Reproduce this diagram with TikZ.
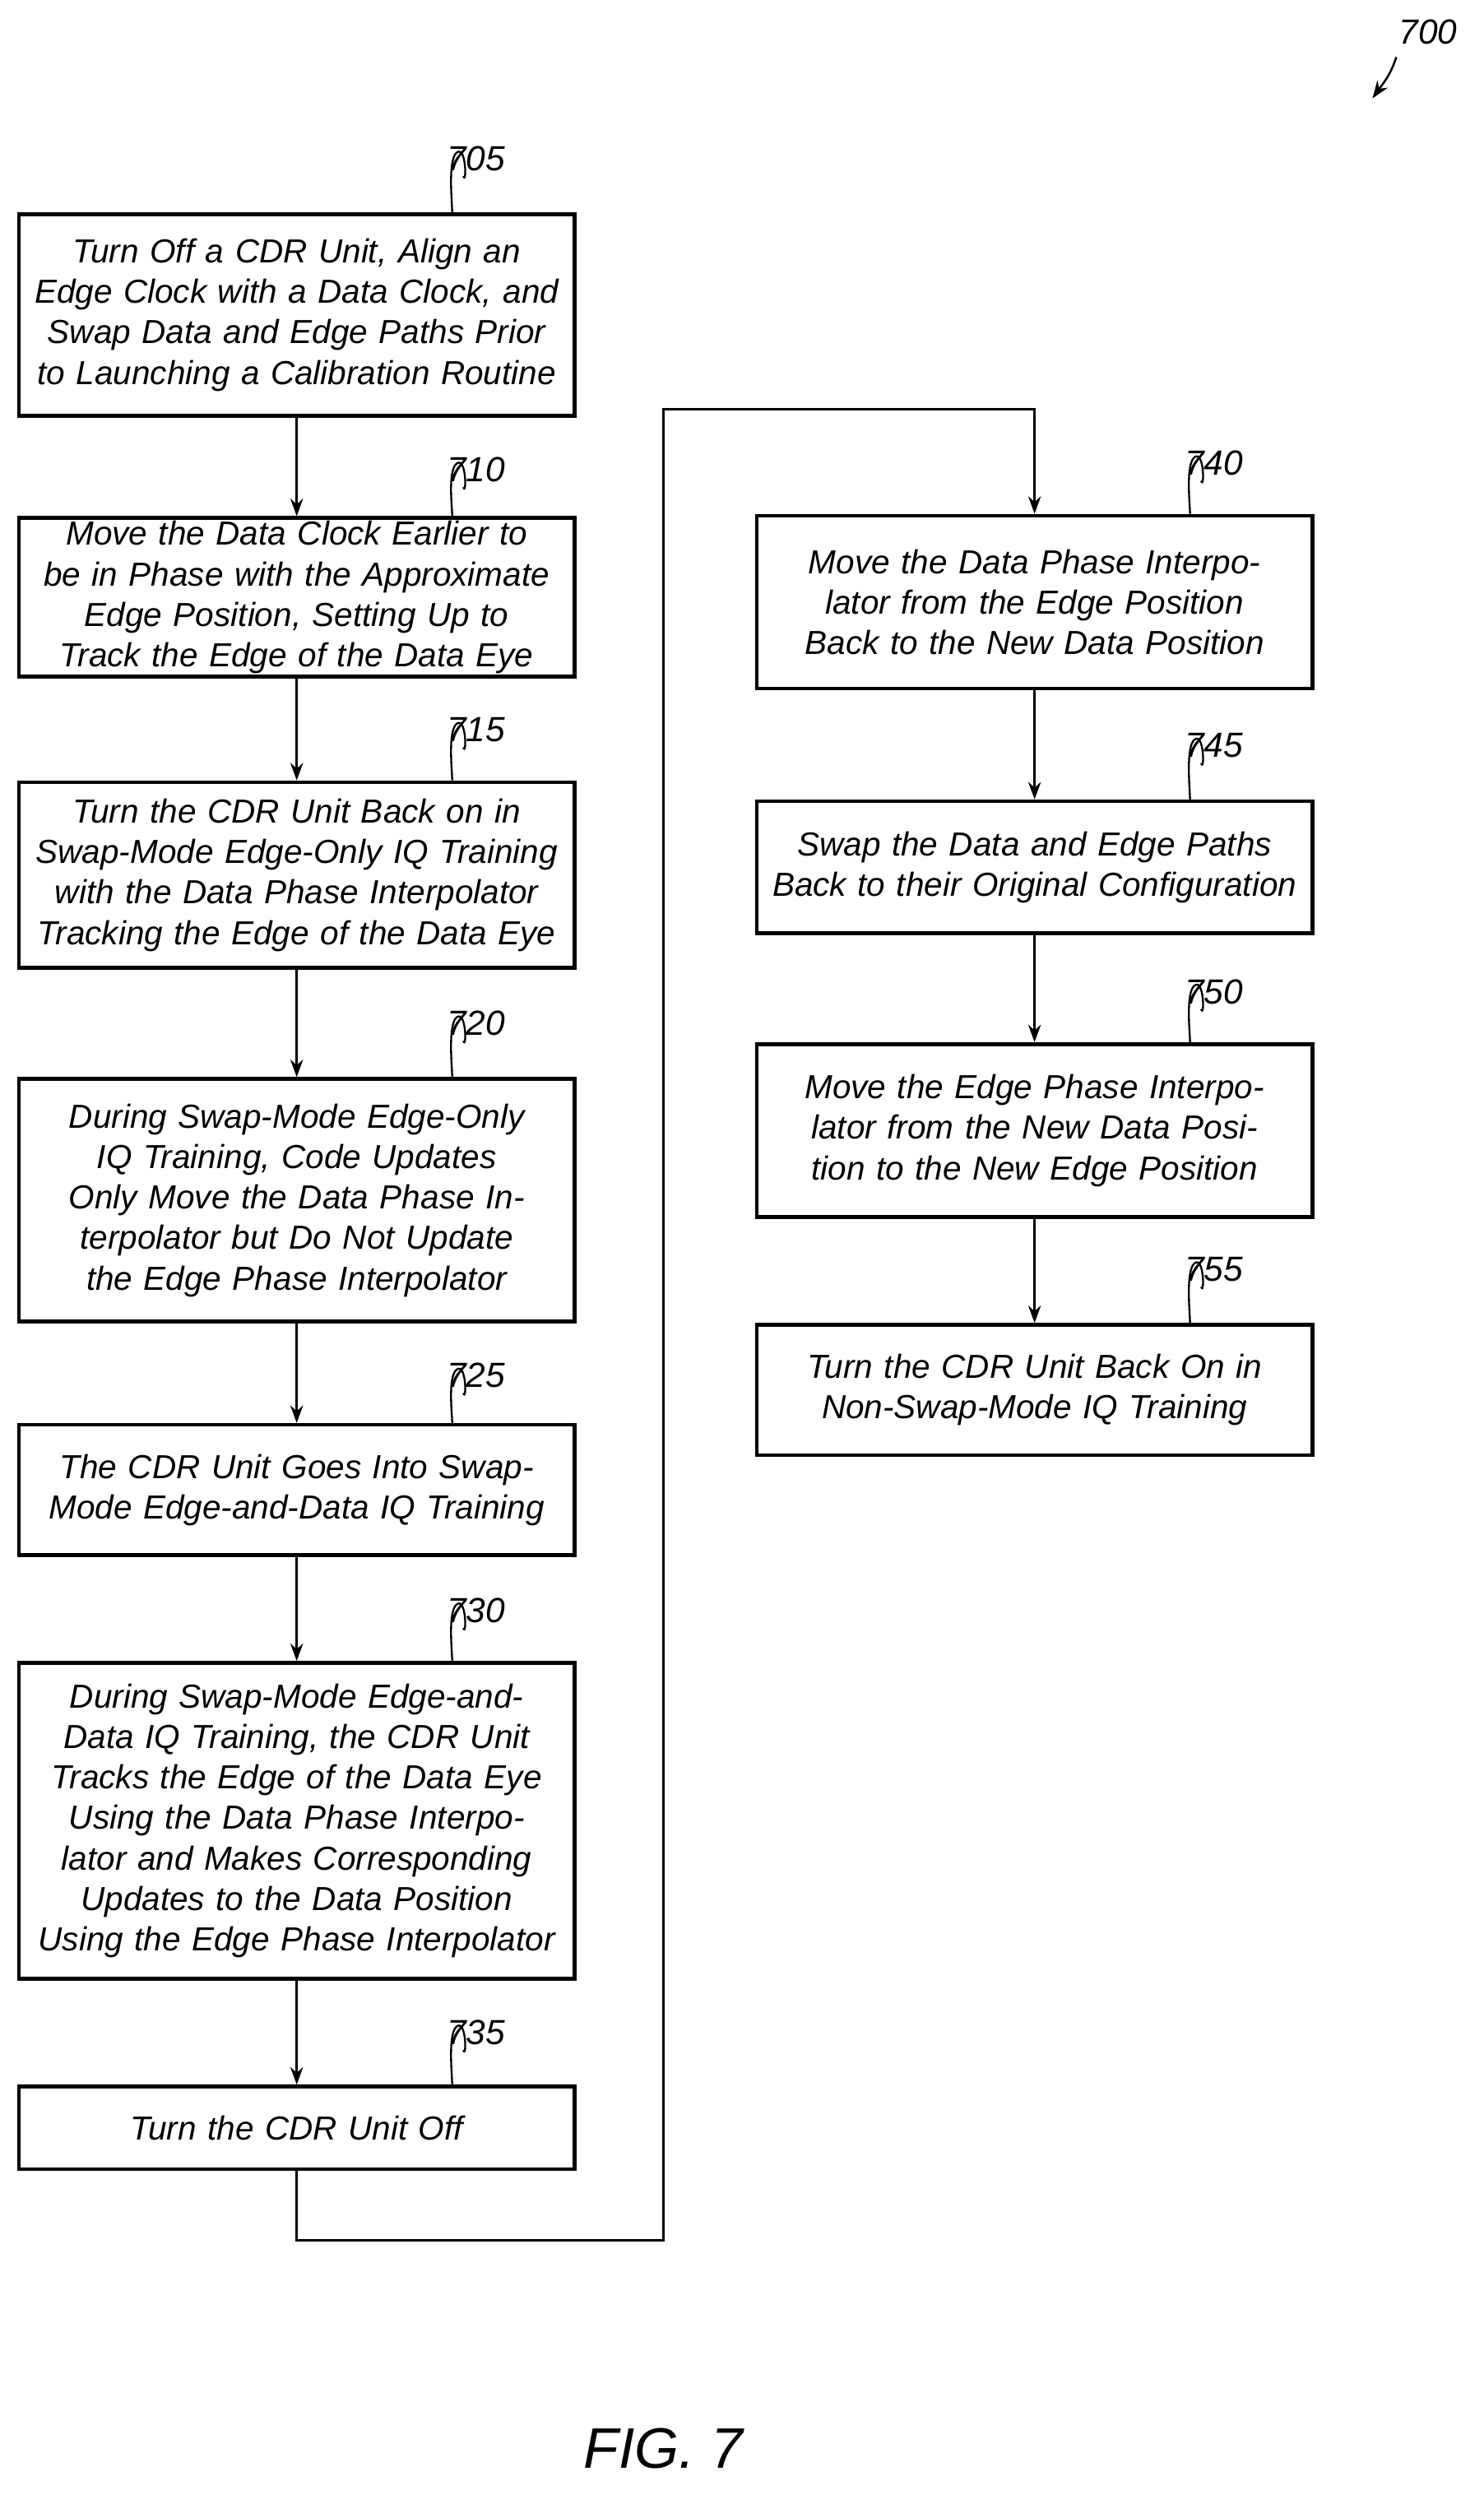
\documentclass[tikz,border=0pt]{standalone}
\usepackage{fontspec}
\setmainfont{Liberation Sans}
\usetikzlibrary{arrows.meta}
\begin{document}
\begin{tikzpicture}[x=1pt,y=-1pt,
 box/.style={draw,line width=2.4pt,fill=white,minimum width=350pt,align=center,text width=344pt,inner sep=2pt,font=\itshape\fontsize{21}{25.5}\selectfont},
 lab/.style={font=\itshape\fontsize{22}{24}\selectfont},
 arr/.style={line width=1.3pt,-{Stealth[length=11pt,width=8pt]}},
 sq/.style={line width=1.2pt}]
\useasboundingbox (0,0) rectangle (935,1575);
\newcommand{\bx}[6]{\node[box,minimum height=#5pt] (#1) at (#2,#3) {#6};
 \node[lab] (l#1) at (#4) {#1};}
\bx{705}{187}{198.5}{300,100}{127}{Turn Off a CDR Unit, Align an Edge Clock with a Data Clock, and Swap Data and Edge Paths Prior to Launching a Calibration Routine}
\bx{710}{187}{376.5}{300,296}{97}{Move the Data Clock Earlier to be in Phase with the Approximate Edge Position, Setting Up to Track the Edge of the Data Eye}
\bx{715}{187}{551.5}{300,460}{117}{Turn the CDR Unit Back on in Swap-Mode Edge-Only IQ Training with the Data Phase Interpolator Tracking the Edge of the Data Eye}
\bx{720}{187}{756.5}{300,645}{153}{During Swap-Mode Edge-Only IQ Training, Code Updates Only Move the Data Phase Interpolator but Do Not Update the Edge Phase Interpolator}
\bx{725}{187}{939}{300,867}{82}{The CDR Unit Goes Into Swap-Mode Edge-and-Data IQ Training}
\bx{730}{187}{1147.5}{300,1015}{199}{During Swap-Mode Edge-and-Data IQ Training, the CDR Unit Tracks the Edge of the Data Eye Using the Data Phase Interpolator and Makes Corresponding Updates to the Data Position Using the Edge Phase Interpolator}
\bx{735}{187}{1341}{300,1281}{52}{Turn the CDR Unit Off}
\bx{740}{652}{379.5}{765,292}{109}{Move the Data Phase Interpolator from the Edge Position Back to the New Data Position}
\bx{745}{652}{546.5}{765,470}{83}{Swap the Data and Edge Paths Back to their Original Configuration}
\bx{750}{652}{712.5}{765,625}{109}{Move the Edge Phase Interpolator from the New Data Position to the New Edge Position}
\bx{755}{652}{876}{765,800}{82}{Turn the CDR Unit Back On in Non-Swap-Mode IQ Training}
\foreach \n in {705,710,715,720,725,730,735,740,745,750,755}{
 \draw[sq] ([xshift=-8pt,yshift=-11pt]l\n.center) .. controls +(2,6) and +(6,-4) .. ([xshift=-12pt,yshift=4pt]l\n.center) .. controls +(-6,4) and +(0,-5) .. ([xshift=-15pt]l\n.center |- \n.north);}
\draw[arr] (705) -- (710);
\draw[arr] (710) -- (715);
\draw[arr] (715) -- (720);
\draw[arr] (720) -- (725);
\draw[arr] (725) -- (730);
\draw[arr] (730) -- (735);
\draw[arr] (740) -- (745);
\draw[arr] (745) -- (750);
\draw[arr] (750) -- (755);
\coordinate (c1) at (187,1412);
\coordinate (c2) at (418,1412);
\coordinate (c3) at (418,258);
\coordinate (c4) at (652,258);
\draw[arr] (735.south) -- (c1) -- (c2) -- (c3) -- (c4) -- (740.north);
\node[lab] (l700) at (900,20) {700};
\coordinate (a700) at (880,36);
\draw[arr] (a700) .. controls (876,48) and (872,52) .. (865,62);
\node[font=\itshape\fontsize{36}{40}\selectfont] (fig) at (418,1543) {FIG. 7};
\end{tikzpicture}
\end{document}
